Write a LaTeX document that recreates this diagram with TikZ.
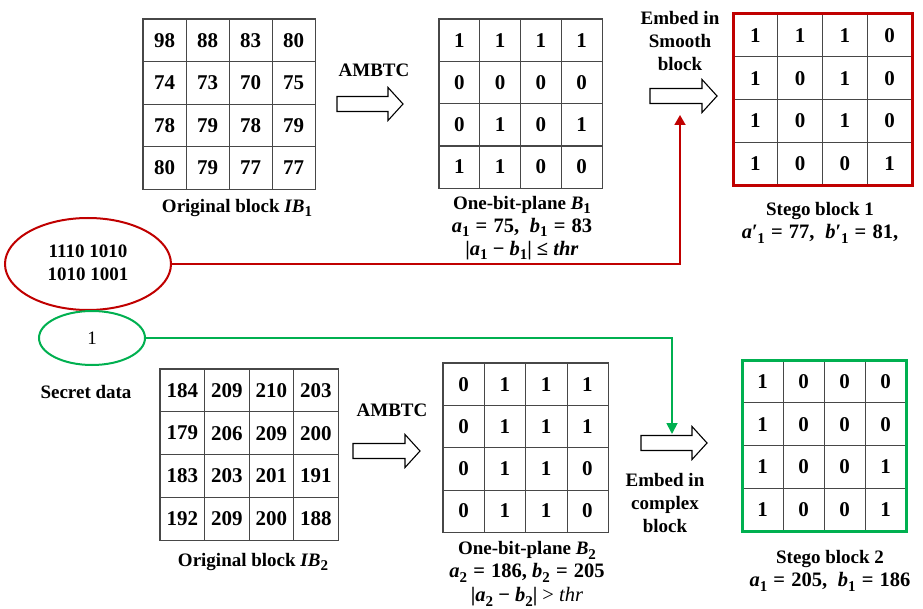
\documentclass[tikz,border=0pt]{standalone}
\usepackage{fontspec}
\setmainfont{Liberation Serif}
\usetikzlibrary{shapes.geometric,arrows.meta,calc}

\definecolor{embedred}{HTML}{C00000}
\definecolor{embedgreen}{HTML}{00B050}
\definecolor{gridgray}{HTML}{474747}

% bold italic variable with a lowered index
\newcommand\ibold[1]{\textbf{\textit{#1}}}
\newcommand\lowidx[1]{\raisebox{-0.22em}{\fontsize{15}{15}\selectfont\bfseries #1}}
\newcommand\lowidxp[1]{\textbf{′}\kern-0.02em\lowidx{#1}}
\newcommand\eqsign{\hspace{0.3em}=\hspace{0.3em}}
\newcommand\mathline{\fontsize{20.5}{23}\selectfont}

\tikzset{
  gridline/.style={draw=gridgray, line width=1.1pt},
  plainborder/.style={draw=gridgray, line width=1.3pt},
  redborder/.style={draw=embedred, line width=3pt},
  greenborder/.style={draw=embedgreen, line width=3pt},
  cell/.style={inner sep=0pt, font=\fontsize{21}{21}\selectfont\bfseries},
  label/.style={inner sep=0pt, align=center, font=\fontsize{19}{23}\selectfont\bfseries},
  hollow/.style={draw=black, line width=1.1pt, fill=white, line join=miter},
  secret/.style={ellipse, draw, line width=2pt, inner sep=0pt},
  redline/.style={draw=embedred, line width=1.8pt, -{Triangle[width=11pt,length=10pt]}},
  greenline/.style={draw=embedgreen, line width=1.8pt, -{Triangle[width=11pt,length=11pt]}},
}

% 4x4 block: name, left, top, width, height, border style, 16 values
\newcommand\blockgrid[7]{%
  \node[inner sep=0pt, minimum width=#4pt, minimum height=#5pt, anchor=north west] (#1) at (#2,#3) {};
  \foreach \i in {1,2,3} {
    \draw[gridline] ($(#1.north west)!\i/4!(#1.north east)$) -- ($(#1.south west)!\i/4!(#1.south east)$);
    \draw[gridline] ($(#1.north west)!\i/4!(#1.south west)$) -- ($(#1.north east)!\i/4!(#1.south east)$);
  }
  \draw[#6] (#1.north west) rectangle (#1.south east);
  \foreach \v [count=\k from 0] in {#7} {
    \pgfmathtruncatemacro\r{int(\k/4)}
    \pgfmathtruncatemacro\c{mod(\k,4)}
    \node[cell] (#1-\r-\c) at ({#2+#4*\c/4+#4/8}, {#3+#5*\r/4+#5/8}) {\v};
  }
}

% wide outlined arrow: left x, centre y, tip x
\newcommand\hollowarrow[3]{%
  \draw[hollow] (#1,#2-7.5) -- (#3-15,#2-7.5) -- (#3-15,#2-16.5) -- (#3,#2)
    -- (#3-15,#2+16.5) -- (#3-15,#2+7.5) -- (#1,#2+7.5) -- cycle;
}

\begin{document}
\begin{tikzpicture}[x=1pt, y=-1pt]
\useasboundingbox (0,0) rectangle (923,609);

% ---------- upper row: smooth block ----------
\blockgrid{ibA}{143}{19}{172}{170}{plainborder}{98,88,83,80,74,73,70,75,78,79,78,79,80,79,77,77}
\node[label] (ibAlbl) at (237,208) {Original block \ibold{IB}\lowidx{1}};

\node[label] (ambA) at (374,70) {AMBTC};
\hollowarrow{337}{104}{403}

\blockgrid{bpA}{439}{19}{163}{169}{plainborder}{1,1,1,1,0,0,0,0,0,1,0,1,1,1,0,0}
\node[label] (bpAlbl) at (522,228) {One-bit-plane \ibold{B}\lowidx{1}\\
  {\mathline\ibold{a}\lowidx{1}\eqsign75,\; \ibold{b}\lowidx{1}\eqsign83}\\
  {\mathline|\ibold{a}\lowidx{1} − \ibold{b}\lowidx{1}| ≤ \ibold{thr}}};

\node[label] (embAlbl) at (680,41) {Embed in\\Smooth\\block};
\hollowarrow{650}{96}{717}
\coordinate (embA) at (680,115);

\blockgrid{stA}{733}{14}{179}{171}{redborder}{1,1,1,0,1,0,1,0,1,0,1,0,1,0,0,1}
\node[label] (stAlbl) at (820,223) {Stego block 1\\
  {\mathline\ibold{a}\lowidxp{1}\eqsign77,\; \ibold{b}\lowidxp{1}\eqsign81,}};

% ---------- secret data ----------
\node[secret, draw=embedred, minimum width=166pt, minimum height=92pt] (secA) at (88,264) {};
\node[label] (secAtxt) at (88,263) {1110 1010\\1010 1001};
\node[secret, draw=embedgreen, minimum width=106pt, minimum height=54pt,
      font=\fontsize{19}{19}\selectfont] (secB) at (92,338) {1};
\node[label] (secLbl) at (86,392) {Secret data};

\draw[redline] (secA.east) -| (embA);

% ---------- lower row: complex block ----------
\blockgrid{ibB}{160}{369}{178}{171}{plainborder}{184,209,210,203,179,206,209,200,183,203,201,191,192,209,200,188}
\node[label] (ibBlbl) at (253,562) {Original block \ibold{IB}\lowidx{2}};

\node[label] (ambB) at (392,410) {AMBTC};
\hollowarrow{353}{451}{420}

\blockgrid{bpB}{443}{363}{165}{169}{plainborder}{0,1,1,1,0,1,1,1,0,1,1,0,0,1,1,0}
\node[label] (bpBlbl) at (527,574) {One-bit-plane \ibold{B}\lowidx{2}\\
  {\mathline\ibold{a}\lowidx{2}\eqsign186, \ibold{b}\lowidx{2}\eqsign205}\\[1pt]
  {\mathline|\ibold{a}\lowidx{2} − \ibold{b}\lowidx{2}| \textmd{> \textit{thr}}}};

\hollowarrow{641}{443}{707}
\coordinate (embB) at (672,434);
\node[label] (embBlbl) at (665,503) {Embed in\\complex\\block};

\blockgrid{stB}{742}{360}{164}{171}{greenborder}{1,0,0,0,1,0,0,0,1,0,0,1,1,0,0,1}
\node[label] (stBlbl) at (830,571) {Stego block 2\\
  {\mathline\ibold{a}\lowidx{1}\eqsign205,\; \ibold{b}\lowidx{1}\eqsign186}};

\draw[greenline] (secB.east) -| (embB);
\end{tikzpicture}
\end{document}
